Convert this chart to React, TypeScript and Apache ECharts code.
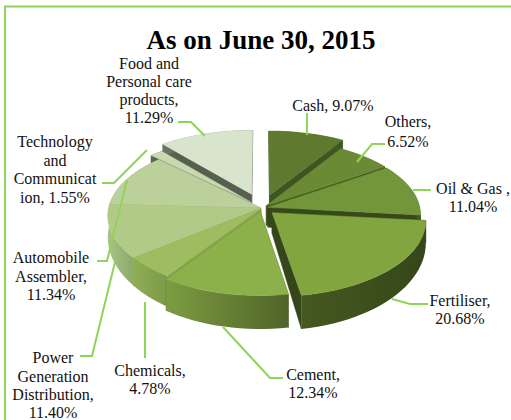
import React, { useEffect, useRef } from "react";
import * as echarts from "echarts";

const categories = ["Cash", "Others", "Oil & Gas", "Fertiliser", "Cement", "Chemicals", "Power Generation Distribution", "Automobile Assembler", "Technology and Communication", "Food and Personal care products"];
const values = [9.07, 6.52, 11.04, 20.68, 12.34, 4.78, 11.4, 11.34, 1.55, 11.29];
const explode = [0.18, 0.04, 0.04, 0.09, 0.05, 0.01, 0.01, 0.01, 0.1, 0.2];
const topColors = ["#5f7a2f", "#6b8a35", "#73963b", "#82a540", "#8cb04a", "#a0bc60", "#b2ca88", "#bcd09c", "#c8d8b0", "#d8e4cc"];
const wallColors = ["#3f5420", "#445a22", "#37491a", "#36461a", "#566d2a", "#88a650", "#9ab878", "#a0b888", "#4f5f48", "#55604f"];
const rimLight = ["#55702a", "#5a7a2c", "#5c7a2e", "#46591f", "#7d9c42", "#8fae54", "#a9c288", "#a9c288", "#5a6a50", "#6a7460"];
const rimDark = ["#3f5420", "#445a22", "#3f5420", "#36461a", "#4f6428", "#7c9a48", "#8daa68", "#a0b888", "#4f5f48", "#55604f"];
const drawOrder = [9, 0, 1, 8, 2, 7, 6, 5, 3, 4];

const labelLines = [
  ["Cash, 9.07%"],
  ["Others,", "6.52%"],
  ["Oil & Gas ,", "11.04%"],
  ["Fertiliser,", "20.68%"],
  ["Cement,", "12.34%"],
  ["Chemicals,", "4.78%"],
  ["Power", "Generation", "Distribution,", "11.40%"],
  ["Automobile", "Assembler,", "11.34%"],
  ["Technology", "and", "Communicat", "ion, 1.55%"],
  ["Food and", "Personal care", "products,", "11.29%"],
];
const labelX = [333, 408, 473, 460, 313, 150, 53, 51, 55, 149];
const labelY = [[105], [121, 141], [188, 206], [300, 318], [374, 392], [370, 388], [357, 376, 394, 412], [257, 276, 294], [141, 160, 178, 197], [63, 81, 99, 117]];
const leaders: number[][][] = [
  [[307, 113], [307, 135]],
  [[385, 144], [372, 144], [357, 162]],
  [[431, 190], [413, 190]],
  [[428, 304], [410, 304], [392, 299]],
  [[283, 378], [270, 378], [223, 327]],
  [[145, 358], [145, 302]],
  [[80, 356], [92, 356], [115, 262]],
  [[97, 261], [107, 261], [127, 180]],
  [[102, 183], [114, 183], [147, 150]],
  [[178, 122], [191, 122], [205, 136]],
];

const cx = 262, cy = 208, A = 152, P = 0.1, B = 75, C = 8;
const project = (u: number, v: number, drop = 0) => {
  const x = cx + A * u * (1 + P * v);
  const y = cy + B * v + C * v * v;
  const d = drop ? Math.max(12, 20 + 13 * v) : 0;
  return [x, y + d];
};

const total = values.reduce((a, b) => a + b, 0);

const renderSlice = (_: any, api: any) => {
  const i = api.value(0);
  let before = 0;
  for (let k = 0; k < i; k++) before += values[k];
  const a0 = (before / total) * Math.PI * 2;
  const a1 = ((before + values[i]) / total) * Math.PI * 2;
  const mid = (a0 + a1) / 2;
  const ou = Math.sin(mid) * explode[i];
  const ov = -Math.cos(mid) * explode[i];
  const n = Math.max(4, Math.ceil((a1 - a0) / 0.05));
  const arc: number[][] = [];
  for (let k = 0; k <= n; k++) {
    const a = a0 + ((a1 - a0) * k) / n;
    arc.push([ou + Math.sin(a), ov - Math.cos(a)]);
  }
  const top = arc.map((p) => project(p[0], p[1]));
  const bottom = arc.map((p) => project(p[0], p[1], 1));
  const apexT = project(ou, ov);
  const apexB = project(ou, ov, 1);
  const poly = (points: number[][], fill: any) => ({
    type: "polygon",
    shape: { points },
    style: { fill, stroke: typeof fill === "string" ? fill : undefined, lineWidth: typeof fill === "string" ? 0.5 : 0 },
  });
  const rim = new echarts.graphic.LinearGradient(0, 0, 1, 0, [
    { offset: 0, color: rimLight[i] },
    { offset: 1, color: rimDark[i] },
  ]);
  return {
    type: "group",
    children: [
      poly([apexT, top[0], bottom[0], apexB], wallColors[i]),
      poly([apexT, top[n], bottom[n], apexB], wallColors[i]),
      poly(top.concat(bottom.slice().reverse()), rim),
      poly([apexT].concat(top), topColors[i]),
    ],
  };
};

export default function App() {
  const ref = useRef<HTMLDivElement>(null);
  useEffect(() => {
    const chart = echarts.init(ref.current!, undefined, { renderer: "svg" });
    const font = '"Liberation Serif", "Times New Roman", serif';
    const texts: any[] = [];
    labelLines.forEach((lines, i) =>
      lines.forEach((t, j) =>
        texts.push({
          type: "text",
          x: labelX[i],
          y: labelY[i][j],
          style: { text: t, fill: "#111", font: `16px ${font}`, align: "center", verticalAlign: "middle" },
          z: 10,
        })
      )
    );
    chart.setOption({
      animation: false,
      backgroundColor: "#fff",
      graphic: [
        { type: "polyline", shape: { points: [[5, 420], [5, 6.5], [511, 6.5]] }, style: { stroke: "#8fd458", lineWidth: 2, fill: "none" }, z: 1 },
        { type: "text", x: 261, y: 40, style: { text: "As on June 30, 2015", fill: "#000", font: `bold 27px ${font}`, align: "center", verticalAlign: "middle" }, z: 10 },
        ...leaders.map((pts) => ({ type: "polyline", shape: { points: pts }, style: { stroke: "#8fd458", lineWidth: 2, fill: "none" }, z: 9 })),
        ...texts,
      ],
      series: [
        {
          type: "custom",
          coordinateSystem: "none",
          renderItem: renderSlice,
          data: drawOrder.map((i) => ({ name: categories[i], value: [i, values[i]] })),
          silent: true,
          z: 2,
        },
      ],
    });
    return () => chart.dispose();
  }, []);
  return <div ref={ref} style={{ position: "fixed", left: 0, top: 0, width: 511, height: 420 }} />;
}
